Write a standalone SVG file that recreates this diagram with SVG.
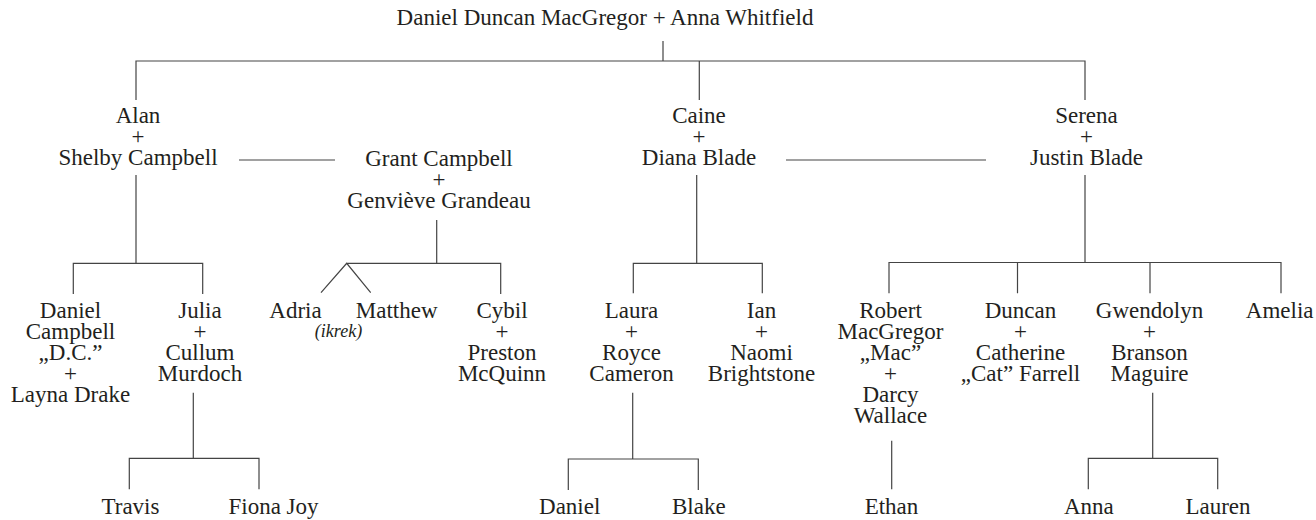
<svg xmlns="http://www.w3.org/2000/svg" width="1316" height="520" viewBox="0 0 1316 520">
<style>
text{font-family:'Liberation Serif','Times New Roman',Times,'DejaVu Serif',serif;font-size:23px;fill:#231f20;text-anchor:middle}
.it{font-style:italic;font-size:18px}
#connectors path{fill:none;stroke:#444;stroke-width:1.2}
</style>
<rect width="1316" height="520" fill="#fff"/>
<g id="connectors">
<path d="M663 41V61M136 100V61H1085V100M699.3 61V100"/>
<path d="M239 160H335M786 160H986"/>
<path d="M136 175V263.3M73.3 294V263.3H202.7V294"/>
<path d="M193.3 392.7V458.3M129.3 489.3V458.3H259V489.3"/>
<path d="M436.7 220V263.3M346.7 263.3H500.7V294M321 292.7L346.7 263.3L370.7 292.7"/>
<path d="M696.7 175V263.3M633.3 293.3V263.3H762.3V293.3"/>
<path d="M632.7 392.7V459M568.3 490V459H698.3V490"/>
<path d="M1085 175V262.5M889 293.3V262.5H1281V293.3M1017.5 262.5V293.3M1150 262.5V293.3"/>
<path d="M891.7 440.7V489.3"/>
<path d="M1152.7 392.7V458.3M1088.3 489.3V458.3H1217.7V489.3"/>
</g>
<g id="root"><text x="605" y="25" font-family="Liberation Serif">Daniel Duncan MacGregor + Anna Whitfield</text></g>
<g id="alan"><text x="138" y="123">Alan</text><text x="138" y="144">+</text><text x="138" y="165">Shelby Campbell</text></g>
<g id="grant"><text x="439" y="166">Grant Campbell</text><text x="439" y="187">+</text><text x="439" y="208">Genviève Grandeau</text></g>
<g id="caine"><text x="699" y="123">Caine</text><text x="699" y="144">+</text><text x="699" y="165">Diana Blade</text></g>
<g id="serena"><text x="1086.5" y="123">Serena</text><text x="1086.5" y="144">+</text><text x="1086.5" y="165">Justin Blade</text></g>
<g id="danielcampbell"><text x="70.5" y="318">Daniel</text><text x="70.5" y="339">Campbell</text><text x="70.5" y="360">„D.C.”</text><text x="70.5" y="381">+</text><text x="70.5" y="402">Layna Drake</text></g>
<g id="julia"><text x="200" y="318">Julia</text><text x="200" y="339">+</text><text x="200" y="360">Cullum</text><text x="200" y="381">Murdoch</text></g>
<g id="adria"><text x="295.5" y="318">Adria</text></g>
<g id="matthew"><text x="396.7" y="318">Matthew</text></g>
<g id="twins"><text class="it" x="338.5" y="337">(ikrek)</text></g>
<g id="cybil"><text x="502" y="318">Cybil</text><text x="502" y="339">+</text><text x="502" y="360">Preston</text><text x="502" y="381">McQuinn</text></g>
<g id="laura"><text x="631.5" y="318">Laura</text><text x="631.5" y="339">+</text><text x="631.5" y="360">Royce</text><text x="631.5" y="381">Cameron</text></g>
<g id="ian"><text x="761.5" y="318">Ian</text><text x="761.5" y="339">+</text><text x="761.5" y="360">Naomi</text><text x="761.5" y="381">Brightstone</text></g>
<g id="robert"><text x="890.5" y="318">Robert</text><text x="890.5" y="339">MacGregor</text><text x="890.5" y="360">„Mac”</text><text x="890.5" y="381">+</text><text x="890.5" y="402">Darcy</text><text x="890.5" y="423">Wallace</text></g>
<g id="duncan"><text x="1020.5" y="318">Duncan</text><text x="1020.5" y="339">+</text><text x="1020.5" y="360">Catherine</text><text x="1020.5" y="381">„Cat” Farrell</text></g>
<g id="gwendolyn"><text x="1149.5" y="318">Gwendolyn</text><text x="1149.5" y="339">+</text><text x="1149.5" y="360">Branson</text><text x="1149.5" y="381">Maguire</text></g>
<g id="amelia"><text x="1279.7" y="318">Amelia</text></g>
<g id="travis"><text x="130.5" y="514">Travis</text></g>
<g id="fiona"><text x="273.5" y="514">Fiona Joy</text></g>
<g id="daniel"><text x="569.7" y="514">Daniel</text></g>
<g id="blake"><text x="698.8" y="514">Blake</text></g>
<g id="ethan"><text x="891.5" y="514">Ethan</text></g>
<g id="anna"><text x="1088.8" y="514">Anna</text></g>
<g id="lauren"><text x="1218" y="514">Lauren</text></g>
</svg>
